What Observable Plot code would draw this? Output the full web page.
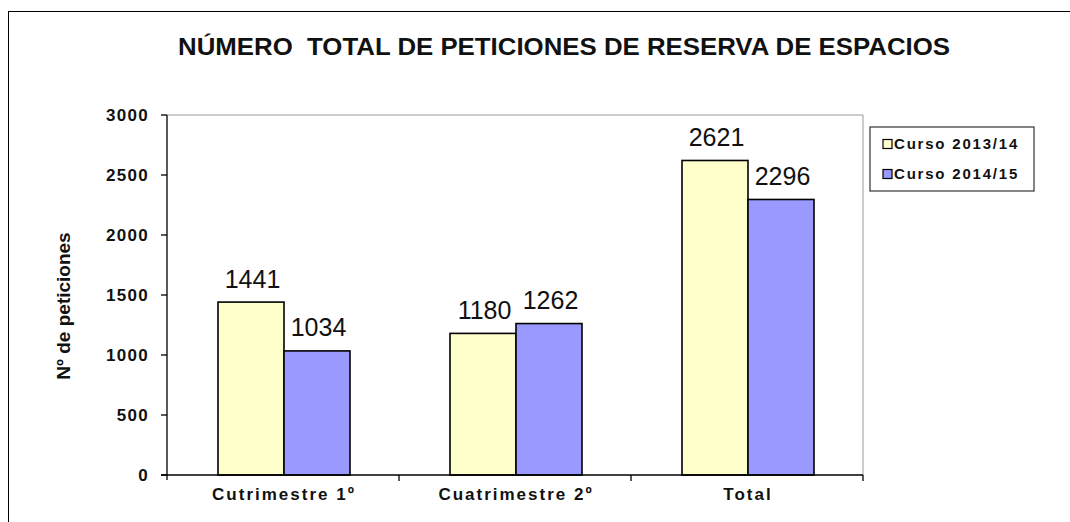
<!DOCTYPE html>
<html><head><meta charset="utf-8">
<script src="https://cdn.jsdelivr.net/npm/d3@7"></script>
<script src="https://cdn.jsdelivr.net/npm/@observablehq/plot@0.6"></script>
<style>
body{margin:0;background:#fff;}
#wrap{position:relative;width:1070px;height:522px;overflow:hidden;font-family:"Liberation Sans",Arial,sans-serif;}
#border{position:absolute;left:8px;top:11px;width:1100px;height:600px;border-left:1.5px solid #000;border-top:1.5px solid #000;box-sizing:border-box;}
#wrap svg{position:absolute;left:0;top:0;}
</style></head><body><div id="wrap"><div id="border"></div></div>
<script>
const categories = ["Cutrimestre 1º", "Cuatrimestre 2º", "Total"];
const series = ["Curso 2013/14", "Curso 2014/15"];
const values2013 = [1441, 1180, 2621];
const values2014 = [1034, 1262, 2296];
const colors = ["#FFFFCC", "#9999FF"];
const yTicks = [0, 500, 1000, 1500, 2000, 2500, 3000];
const titleText = "NÚMERO  TOTAL DE PETICIONES DE RESERVA DE ESPACIOS";
const yLabelText = "Nº de peticiones";

const data = categories.flatMap((c, i) => [
  {cat: c, serie: series[0], value: values2013[i]},
  {cat: c, serie: series[1], value: values2014[i]}
]);

const FONT = "Liberation Sans, Arial, sans-serif";

const plot = Plot.plot({
  width: 1070, height: 522,
  marginLeft: 167, marginRight: 207, marginTop: 115, marginBottom: 47,
  style: {fontFamily: FONT, background: "transparent", overflow: "visible"},
  fx: {domain: categories, paddingInner: 0.427, paddingOuter: 0.2135, label: null, axis: "bottom", tickSize: 0, tickPadding: 12},
  x: {domain: series, padding: 0, axis: null},
  y: {domain: [0, 3000], axis: null},
  color: {domain: series, range: colors},
  marks: [
    Plot.barY(data, {fx: "cat", x: "serie", y: "value", fill: "serie", stroke: "#000", strokeWidth: 1.6}),
    Plot.text(data, {fx: "cat", x: "serie", y: "value", text: d => String(d.value), dy: -23, dx: 1, fontSize: 25, fill: "#111", style: "letter-spacing:1.8px"})
  ]
});

document.getElementById("wrap").appendChild(plot);

const svg = d3.select(plot);
const y = plot.scale("y"), fx = plot.scale("fx");
const [xL, xR] = fx.range;
const y0 = y.apply(0), yTop = y.apply(3000);
const step = fx.step;

// fx axis label styling
svg.selectAll("g[aria-label='fx-axis tick label'] text, g[aria-label='fx-axis tick label']")
  .attr("font-size", 17).attr("font-weight", "bold").attr("fill", "#111").style("letter-spacing", "2px");

const g = svg.append("g").attr("text-anchor", "start");
// plot area frame (grey)
g.append("line").attr("x1", xL).attr("x2", xR).attr("y1", yTop).attr("y2", yTop).attr("stroke", "#999").attr("stroke-width", 1);
g.append("line").attr("x1", xR).attr("x2", xR).attr("y1", yTop).attr("y2", y0).attr("stroke", "#999").attr("stroke-width", 1);
// y axis line
g.append("line").attr("x1", xL).attr("x2", xL).attr("y1", yTop).attr("y2", y0 + 5).attr("stroke", "#000").attr("stroke-width", 1.3);
// x axis line
g.append("line").attr("x1", xL - 6).attr("x2", xR).attr("y1", y0).attr("y2", y0).attr("stroke", "#000").attr("stroke-width", 1.3);
// y ticks + labels
yTicks.forEach(t => {
  const yy = y.apply(t);
  g.append("line").attr("x1", xL - 6).attr("x2", xL).attr("y1", yy).attr("y2", yy).attr("stroke", "#000").attr("stroke-width", 1.3);
  g.append("text").attr("x", xL - 18).attr("y", yy).attr("dy", "0.35em")
    .attr("text-anchor", "end").attr("font-size", 17).attr("font-weight", "bold")
    .attr("font-family", FONT).attr("fill", "#111").style("letter-spacing", "1.3px").text(String(t));
});
// category boundary ticks
categories.forEach((c, i) => {
  const xx = xL + (i + 1) * step;
  g.append("line").attr("x1", xx).attr("x2", xx).attr("y1", y0).attr("y2", y0 + 6).attr("stroke", "#000").attr("stroke-width", 1.3);
});
// y label
g.append("text").attr("transform", `translate(63,${(y0 + yTop) / 2 + 11}) rotate(-90)`)
  .attr("text-anchor", "middle").attr("dy", "0.35em").attr("font-size", 19).attr("font-weight", "bold")
  .attr("font-family", FONT).attr("fill", "#111").text(yLabelText);
// title
g.append("text").attr("x", 564).attr("y", 55).attr("text-anchor", "middle")
  .attr("font-size", 24).attr("font-weight", "bold").attr("font-family", FONT).attr("fill", "#111")
  .attr("textLength", 772).attr("lengthAdjust", "spacingAndGlyphs").style("white-space", "pre").text(titleText);
// legend
const lg = g.append("g");
lg.append("rect").attr("x", 870).attr("y", 127).attr("width", 164).attr("height", 64)
  .attr("fill", "#fff").attr("stroke", "#333").attr("stroke-width", 1.2);
series.forEach((s, i) => {
  const cy = 144 + i * 30;
  lg.append("rect").attr("x", 883).attr("y", cy - 4.5).attr("width", 9).attr("height", 9)
    .attr("fill", plot.scale("color").apply(s)).attr("stroke", "#000").attr("stroke-width", 1.2);
  lg.append("text").attr("x", 894).attr("y", cy).attr("dy", "0.36em").attr("text-anchor", "start")
    .attr("font-size", 15).attr("font-weight", "bold").attr("font-family", FONT).attr("fill", "#111")
    .style("letter-spacing", "1.8px").text(s);
});
</script></body></html>
